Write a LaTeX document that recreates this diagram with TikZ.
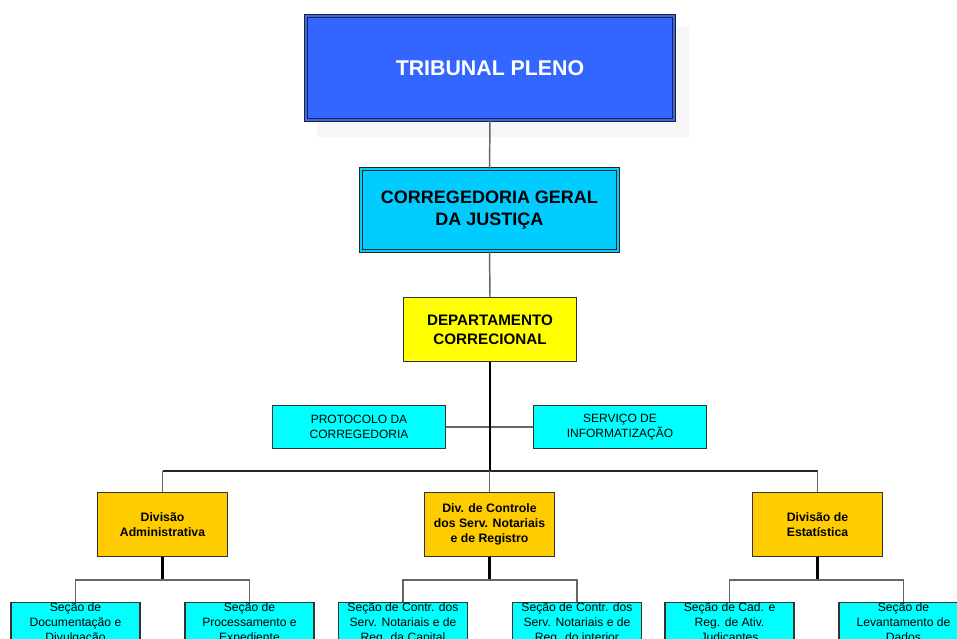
\documentclass[tikz,border=0pt]{standalone}
\usepackage{fontspec}
\setmainfont{Liberation Sans}
\definecolor{plenoblue}{HTML}{3366FF}
\definecolor{corrblue}{HTML}{00CCFF}
\definecolor{depyellow}{HTML}{FFFF00}
\definecolor{aquabox}{HTML}{00FFFF}
\definecolor{divorange}{HTML}{FFCC00}
\definecolor{linkgray}{HTML}{666666}
\definecolor{shadowgray}{HTML}{F6F6F6}
\tikzset{
  doublebox/.style={draw=black!85, line width=0.7pt, double distance=1.6pt, align=center, inner sep=0pt},
  plainbox/.style={draw=black!80, line width=1pt, align=center, inner sep=0pt},
  secbox/.style={plainbox, fill=aquabox, minimum width=96.75pt, anchor=north,
    font=\fontsize{9.1pt}{11.25pt}\selectfont},
  divbox/.style={plainbox, fill=divorange, minimum width=97.5pt, minimum height=48pt,
    font=\fontsize{9.2pt}{11.25pt}\selectfont\bfseries},
  link/.style={draw=linkgray, line width=1.1pt},
  trunk/.style={draw=black, line width=2.2pt},
  busline/.style={draw=black!85, line width=0.9pt},
}
\begin{document}
\begin{tikzpicture}[x=0.75pt, y=-0.75pt]
  \useasboundingbox (0,0) rectangle (957,639);
  \clip (0,0) rectangle (957,639);

  % soft shadow behind the top box
  \fill[shadowgray] (317,27) rectangle (689,137);

  % upper levels
  \node[doublebox, fill=plenoblue, double=plenoblue, minimum width=276pt, minimum height=78pt,
        text=white, font=\fontsize{16pt}{19pt}\selectfont\bfseries]
        (tp) at (490,68) {TRIBUNAL PLENO};
  \node[doublebox, fill=corrblue, double=corrblue, minimum width=192.75pt, minimum height=61.5pt,
        font=\fontsize{13.5pt}{16.25pt}\selectfont\bfseries]
        (cgj) at (489.5,210) {CORREGEDORIA GERAL\\DA JUSTIÇA};
  \node[plainbox, fill=depyellow, minimum width=129.75pt, minimum height=48pt,
        font=\fontsize{11.4pt}{14.25pt}\selectfont\bfseries]
        (dep) at (490,329.5) {DEPARTAMENTO\\CORRECIONAL};

  % staff units
  \node[plainbox, fill=aquabox, minimum width=129.75pt, minimum height=32.25pt,
        font=\fontsize{9pt}{11.25pt}\selectfont]
        (prot) at (359,427) {PROTOCOLO DA\\CORREGEDORIA};
  \node[plainbox, fill=aquabox, minimum width=129.75pt, minimum height=32.25pt,
        font=\fontsize{9pt}{11.25pt}\selectfont]
        (serv) at (620,427) {SERVIÇO DE\\INFORMATIZAÇÃO};

  % divisions
  \node[divbox] (divA) at (162.5,524.5) {Divisão\\Administrativa};
  \node[divbox] (divC) at (489.5,524.5) {Div. de Controle\\dos Serv. Notariais\\e de Registro};
  \node[divbox] (divE) at (817.5,524.5) {Divisão de\\Estatística};

  % sections
  \node[secbox] (sA1) at (75.5,602)  {Seção de\\Documentação e\\Divulgação};
  \node[secbox] (sA2) at (249.5,602) {Seção de\\Processamento e\\Expediente};
  \node[secbox] (sC1) at (403,602)   {Seção de Contr. dos\\Serv. Notariais e de\\Reg. da Capital};
  \node[secbox] (sC2) at (577,602)   {Seção de Contr. dos\\Serv. Notariais e de\\Reg. do interior};
  \node[secbox] (sE1) at (729.5,602) {Seção de Cad. e\\Reg. de Ativ.\\Judicantes};
  \node[secbox] (sE2) at (903.5,602) {Seção de\\Levantamento de\\Dados};

  % connectors between the upper levels
  \draw[link] (tp.south) -- (cgj.north);
  \draw[link] (cgj.south) -- (dep.north);
  \draw[link] (prot.east) -- (serv.west);

  % main trunk and division bus
  \coordinate (hub) at (490,471);
  \draw[trunk] (dep.south) -- (hub);
  \draw[busline] (divA.north |- hub) -- (divE.north |- hub);
  \foreach \d in {divA,divC,divE}
    \draw[link] (\d.north |- hub) -- (\d.north);

  % division trunks and section buses
  \foreach \d/\a/\b in {divA/sA1/sA2, divC/sC1/sC2, divE/sE1/sE2} {
    \draw[trunk] (\d.south) -- ++(0,23) coordinate (\d-bus);
    \draw[link] (\a.north) |- (\d-bus) -| (\b.north);
  }
\end{tikzpicture}
\end{document}
